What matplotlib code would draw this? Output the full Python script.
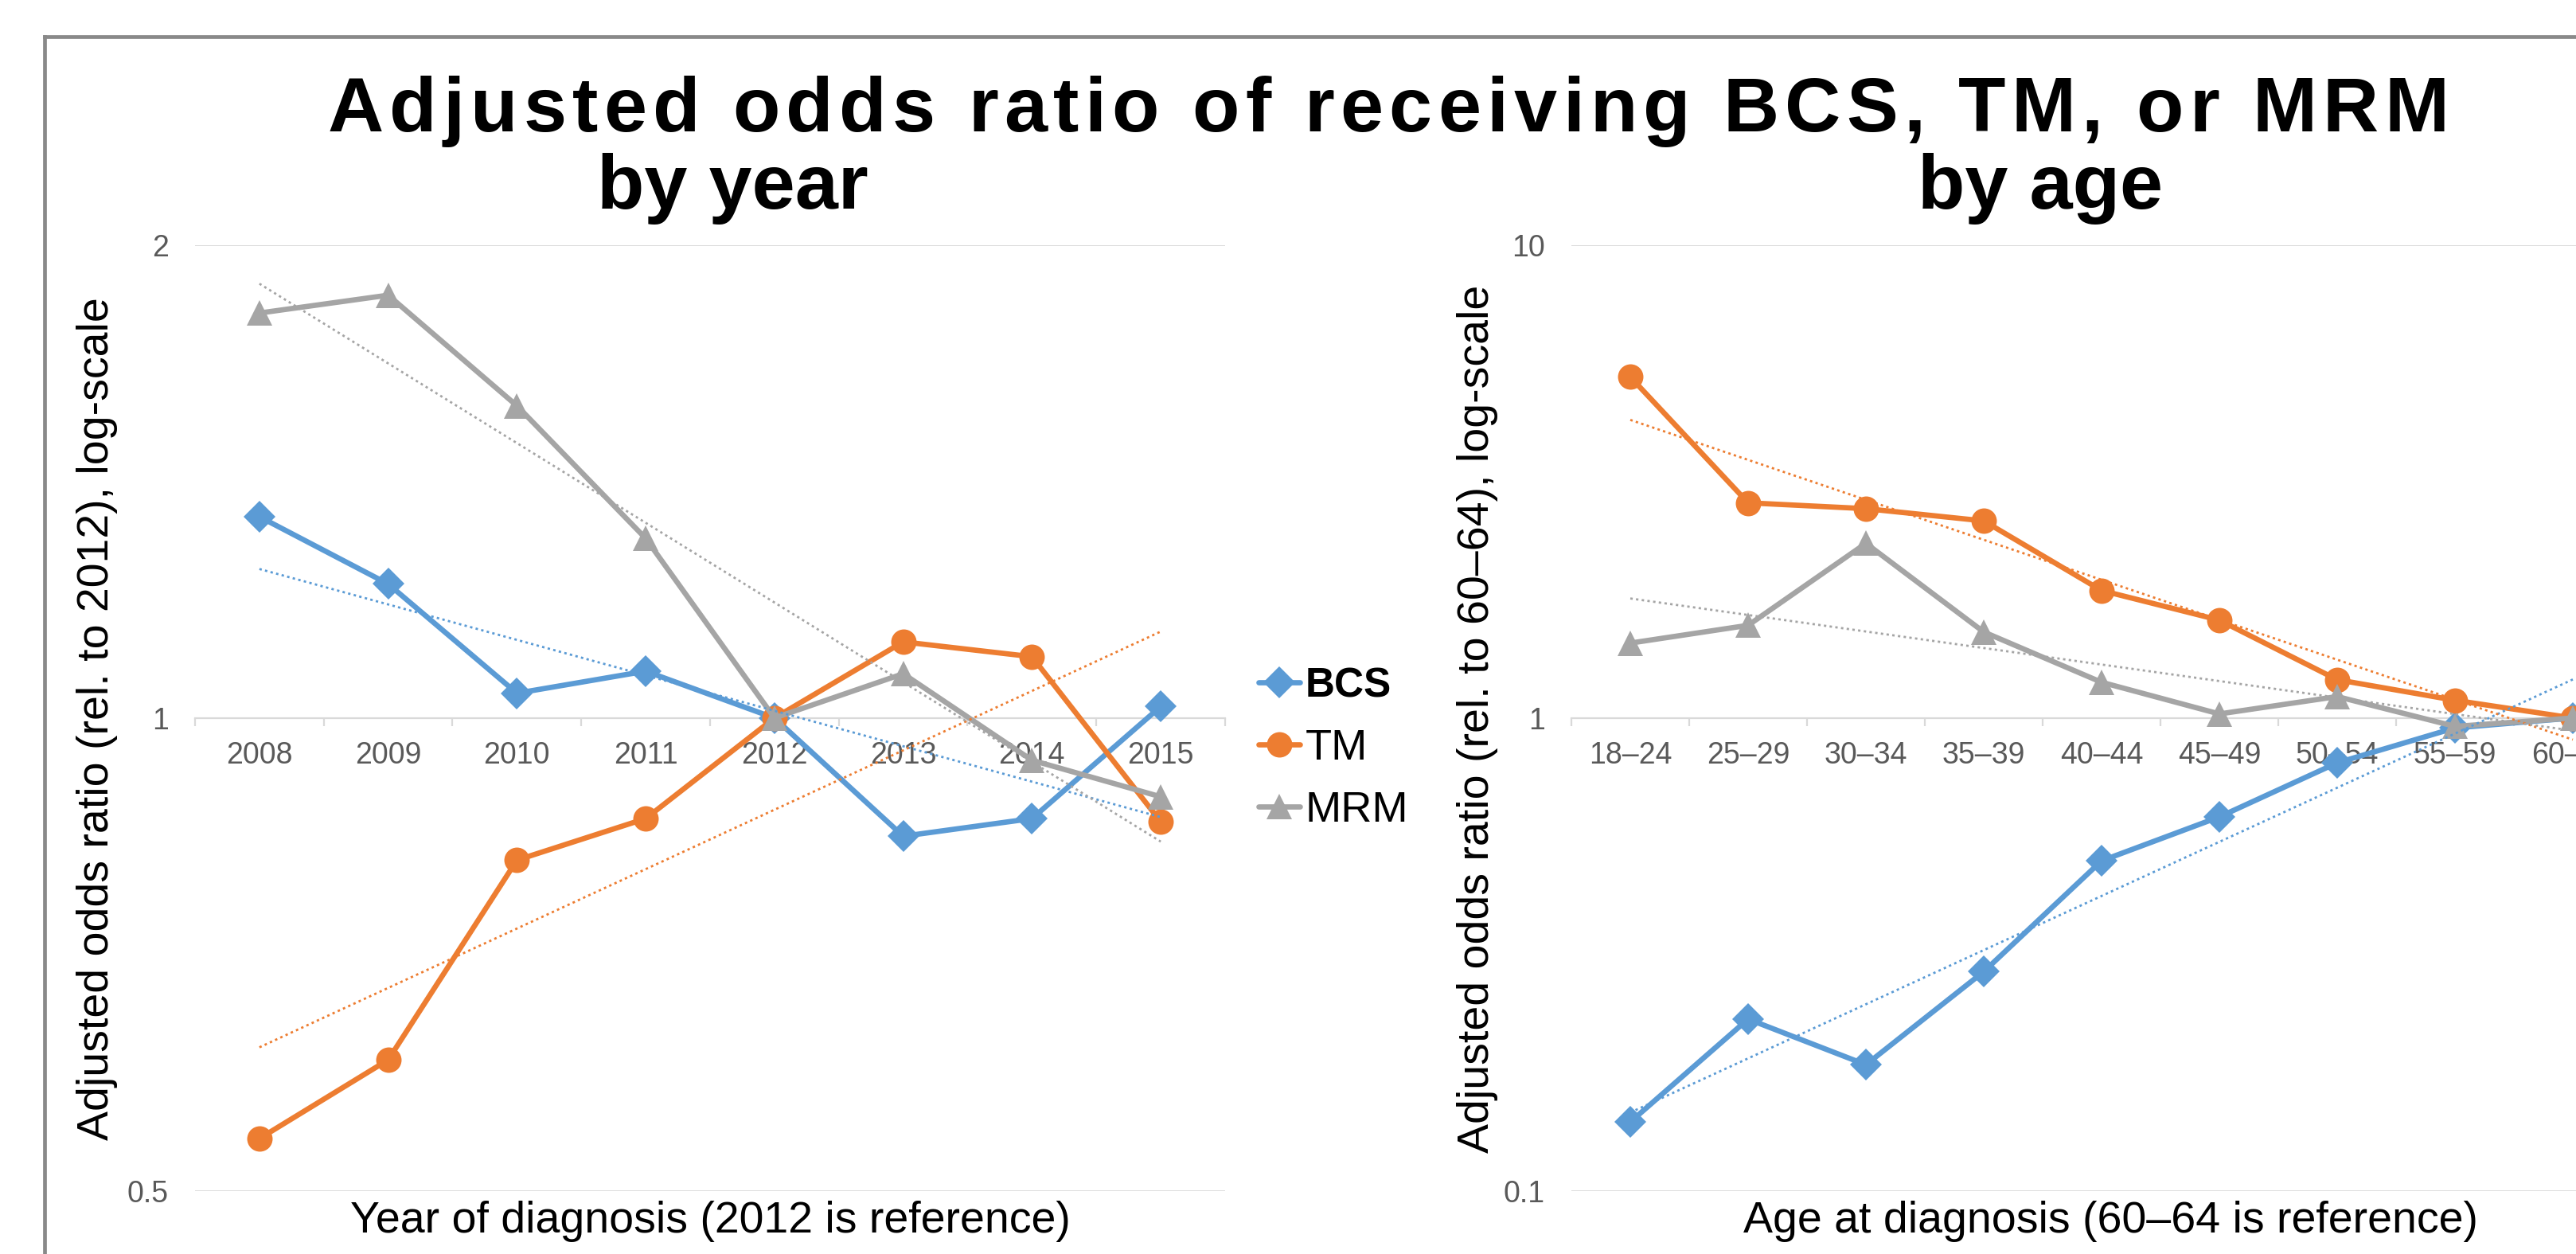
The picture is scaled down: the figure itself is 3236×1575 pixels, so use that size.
import numpy as np
import matplotlib
matplotlib.use('Agg')
import matplotlib.pyplot as plt
from matplotlib.lines import Line2D
from matplotlib.ticker import NullLocator, NullFormatter

plt.rcParams['font.family'] = ['Liberation Sans', 'DejaVu Sans']

# ---------------- data ----------------
years = ['2008', '2009', '2010', '2011', '2012', '2013', '2014', '2015']
bcs_by_year = [1.343, 1.217, 1.037, 1.071, 1.000, 0.841, 0.863, 1.017]
tm_by_year = [0.540, 0.606, 0.812, 0.863, 1.000, 1.118, 1.094, 0.859]
mrm_by_year = [1.810, 1.858, 1.580, 1.301, 1.000, 1.067, 0.940, 0.891]

ages = ['18–24', '25–29', '30–34', '35–39', '40–44', '45–49', '50–54', '55–59', '60–64']
bcs_by_age = [0.140, 0.231, 0.185, 0.291, 0.499, 0.618, 0.804, 0.953, 1.000]
tm_by_age = [5.26, 2.85, 2.77, 2.61, 1.86, 1.61, 1.205, 1.09, 1.00]
mrm_by_age = [1.44, 1.57, 2.34, 1.52, 1.19, 1.02, 1.11, 0.96, 1.00]

series_names = ['BCS', 'TM', 'MRM']
series_colors = ['#5B9BD5', '#ED7D31', '#A5A5A5']
series_markers = ['D', 'o', '^']
marker_sizes = [20, 23, 23]

left_yticks = [0.5, 1, 2]
left_yticklabels = ['0.5', '1', '2']
right_yticks = [0.1, 1, 10]
right_yticklabels = ['0.1', '1', '10']

title = 'Adjusted odds ratio of receiving BCS, TM, or MRM'

# ---------------- figure ----------------
W, H = 3237, 1575
fig = plt.figure(figsize=(W / 100, H / 100), dpi=100)
fig.patch.set_facecolor('white')


def fx(px):
    return px / W


def fy(py):
    return 1 - py / H


# slide frame (top + left edges visible)
fig.add_artist(Line2D([fx(56), fx(W + 20)], [fy(46), fy(46)], color='#898989', lw=3.4,
                      transform=fig.transFigure, solid_capstyle='projecting'))
fig.add_artist(Line2D([fx(56), fx(56)], [fy(46), fy(H + 20)], color='#898989', lw=3.4,
                      transform=fig.transFigure, solid_capstyle='projecting'))

ax_top, ax_bot = 307.6, 1496.0
axL = fig.add_axes([fx(245), fy(ax_bot), fx(1539 - 245), (ax_bot - ax_top) / H])
axR = fig.add_axes([fx(1974), fy(ax_bot), fx(3306 - 1974), (ax_bot - ax_top) / H])

GRID = '#D9D9D9'
TICKC = '#595959'
LW = 4.8


def setup(ax, cats, ylim, yticks, ylabels):
    ax.patch.set_visible(False)
    ax.set_yscale('log')
    ax.set_ylim(*ylim)
    ax.set_xlim(-0.5, len(cats) - 0.5)
    ax.set_yticks(yticks, ylabels)
    ax.yaxis.set_minor_locator(NullLocator())
    ax.yaxis.set_minor_formatter(NullFormatter())
    ax.tick_params(axis='y', which='both', length=0, pad=24, labelsize=27, labelcolor=TICKC)
    for s in ['left', 'right', 'top']:
        ax.spines[s].set_visible(False)
    ax.spines['bottom'].set_position(('data', 1.0))
    ax.spines['bottom'].set_color(GRID)
    ax.spines['bottom'].set_linewidth(1.6)
    ax.set_xticks(range(len(cats)), cats)
    ax.set_xticks(np.arange(-0.5, len(cats)), minor=True)
    ax.tick_params(axis='x', which='major', length=0, pad=21, labelsize=27, labelcolor=TICKC)
    ax.tick_params(axis='x', which='minor', length=7.5, width=1.6, color=GRID, direction='out')
    ax.grid(axis='y', which='major', color=GRID, lw=1.3)
    ax.set_axisbelow(True)


def draw(ax, series):
    for vals, c, m, ms in zip(series, series_colors, series_markers, marker_sizes):
        x = np.arange(len(vals))
        ax.plot(x, vals, color=c, lw=LW, marker=m, ms=ms, mfc=c, mec=c, mew=0,
                solid_joinstyle='round', solid_capstyle='round', zorder=3)
        # exponential trendline (least squares on log values)
        coef = np.polyfit(x, np.log(vals), 1)
        xt = np.array([x[0], x[-1]], dtype=float)
        ax.plot(xt, np.exp(np.polyval(coef, xt)), color=c, lw=2.0,
                ls=(0, (1.1, 1.5)), zorder=4)


setup(axL, years, (0.5, 2), left_yticks, left_yticklabels)
setup(axR, ages, (0.1, 10), right_yticks, right_yticklabels)
draw(axL, [bcs_by_year, tm_by_year, mrm_by_year])
draw(axR, [bcs_by_age, tm_by_age, mrm_by_age])

# axis labels
fig.text(fx(892), fy(1548), 'Year of diagnosis (2012 is reference)', fontsize=40,
         ha='center', va='baseline', color='black')
fig.text(fx(2652), fy(1548), 'Age at diagnosis (60–64 is reference)', fontsize=40,
         ha='center', va='baseline', color='black')
fig.text(fx(122), fy(903), 'Adjusted odds ratio (rel. to 2012), log-scale', fontsize=40,
         rotation=90, ha='center', va='center', color='black')
fig.text(fx(1856), fy(903), 'Adjusted odds ratio (rel. to 60–64), log-scale', fontsize=40,
         rotation=90, ha='center', va='center', color='black')

# legend (between the panels)
leg_y = [857, 935, 1013]
leg_sizes = [37, 39, 39]
leg_weights = ['bold', 'normal', 'normal']
for name, c, m, ms, yy, fs, fw in zip(series_names, series_colors, series_markers,
                                      marker_sizes, leg_y, leg_sizes, leg_weights):
    fig.add_artist(Line2D([fx(1581), fx(1633)], [fy(yy), fy(yy)], color=c, lw=LW,
                          solid_capstyle='round', transform=fig.transFigure))
    fig.add_artist(Line2D([fx(1607)], [fy(yy)], color=c, marker=m, ms=ms, mew=0,
                          transform=fig.transFigure))
    fig.text(fx(1640), fy(yy), name, fontsize=fs, fontweight=fw, ha='left',
             va='center_baseline', color='black')

# ---------------- titles ----------------
renderer = fig.canvas.get_renderer()


def text_w(s, fp):
    w, h, d = renderer.get_text_width_height_descent(s, fp, ismath=False)
    return w


def spaced_title(s, x0, x1, ybase, size):
    from matplotlib.font_manager import FontProperties
    fp = FontProperties(family=['Liberation Sans', 'DejaVu Sans'], weight='bold', size=size)
    base = text_w('HH', fp)
    adv = [text_w('H' + ch + 'H', fp) - base for ch in s]
    natural = sum(adv)
    gap = ((x1 - x0) - natural) / (len(s) - 1)
    x = x0
    for ch, a in zip(s, adv):
        if ch != ' ':
            fig.text(fx(x), fy(ybase), ch, fontproperties=fp, ha='left', va='baseline',
                     color='black')
        x += a + gap


spaced_title(title, 412, 3076, 165, 70)
fig.text(fx(920), fy(262), 'by year', fontsize=70, fontweight='bold', ha='center',
         va='baseline', color='black')
fig.text(fx(2563), fy(262), 'by age', fontsize=70, fontweight='bold', ha='center',
         va='baseline', color='black')

fig.savefig('out.png', dpi=100)
